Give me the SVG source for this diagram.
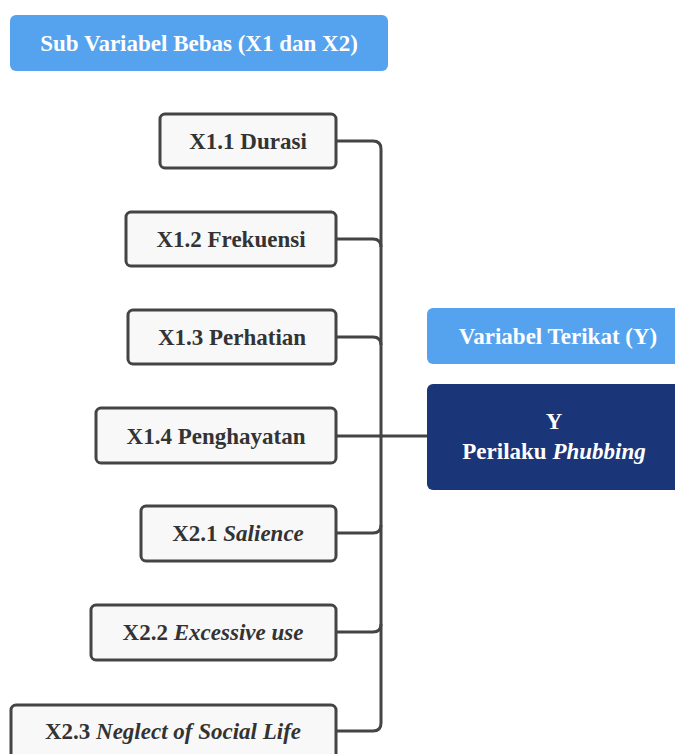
<svg xmlns="http://www.w3.org/2000/svg" width="675" height="754" viewBox="0 0 675 754">
<style>
.hdr{fill:#55a3ee;}
.node rect{fill:#f8f8f8;stroke:#444;stroke-width:3;}
.t{font-family:"Liberation Serif","Times New Roman",serif;font-weight:bold;font-size:23px;text-anchor:middle;}
.nt{fill:#333;}
.wt{fill:#fff;}
.conn path{fill:none;stroke:#444;stroke-width:3;}
</style>
<rect width="675" height="754" fill="#fff"/>
<g id="hdr-x">
<rect class="hdr" x="10" y="15" width="378" height="56" rx="6"/>
<text class="t wt" x="199" y="51">Sub Variabel Bebas (X1 dan X2)</text>
</g>
<g class="conn" id="connectors">
<path d="M336,141 H373 Q381,141 381,149 V723 Q381,731 373,731 H336"/>
<path d="M336,239 H373 Q381,239 381,247"/>
<path d="M336,337 H373 Q381,337 381,345"/>
<path d="M336,436 H427"/>
<path d="M336,533 H373 Q381,533 381,525"/>
<path d="M336,632 H373 Q381,632 381,624"/>
</g>
<g class="node" id="x11">
<rect x="160" y="114" width="176" height="54" rx="5"/>
<text class="t nt" x="248" y="149">X1.1 Durasi</text>
</g>
<g class="node" id="x12">
<rect x="126" y="212" width="210" height="54" rx="5"/>
<text class="t nt" x="231" y="247">X1.2 Frekuensi</text>
</g>
<g class="node" id="x13">
<rect x="128" y="310" width="208" height="54" rx="5"/>
<text class="t nt" x="232" y="345">X1.3 Perhatian</text>
</g>
<g class="node" id="x14">
<rect x="96" y="408" width="240" height="55" rx="5"/>
<text class="t nt" x="216" y="444">X1.4 Penghayatan</text>
</g>
<g class="node" id="x21">
<rect x="141" y="506" width="195" height="55" rx="5"/>
<text class="t nt" x="238" y="541">X2.1 <tspan font-style="italic">Salience</tspan></text>
</g>
<g class="node" id="x22">
<rect x="91" y="605" width="245" height="55" rx="5"/>
<text class="t nt" x="213" y="640">X2.2 <tspan font-style="italic">Excessive use</tspan></text>
</g>
<g class="node" id="x23">
<rect x="11" y="705" width="325" height="60" rx="5"/>
<text class="t nt" x="173" y="739">X2.3 <tspan font-style="italic">Neglect of Social Life</tspan></text>
</g>
<g id="hdr-y">
<rect class="hdr" x="427" y="308" width="260" height="56" rx="6"/>
<text class="t wt" x="558" y="344">Variabel Terikat (Y)</text>
</g>
<g id="y">
<rect x="427" y="384" width="260" height="106" rx="6" fill="#1a3578"/>
<text class="t wt" x="554" y="429">Y</text>
<text class="t wt" x="554" y="459">Perilaku <tspan font-style="italic">Phubbing</tspan></text>
</g>
</svg>
